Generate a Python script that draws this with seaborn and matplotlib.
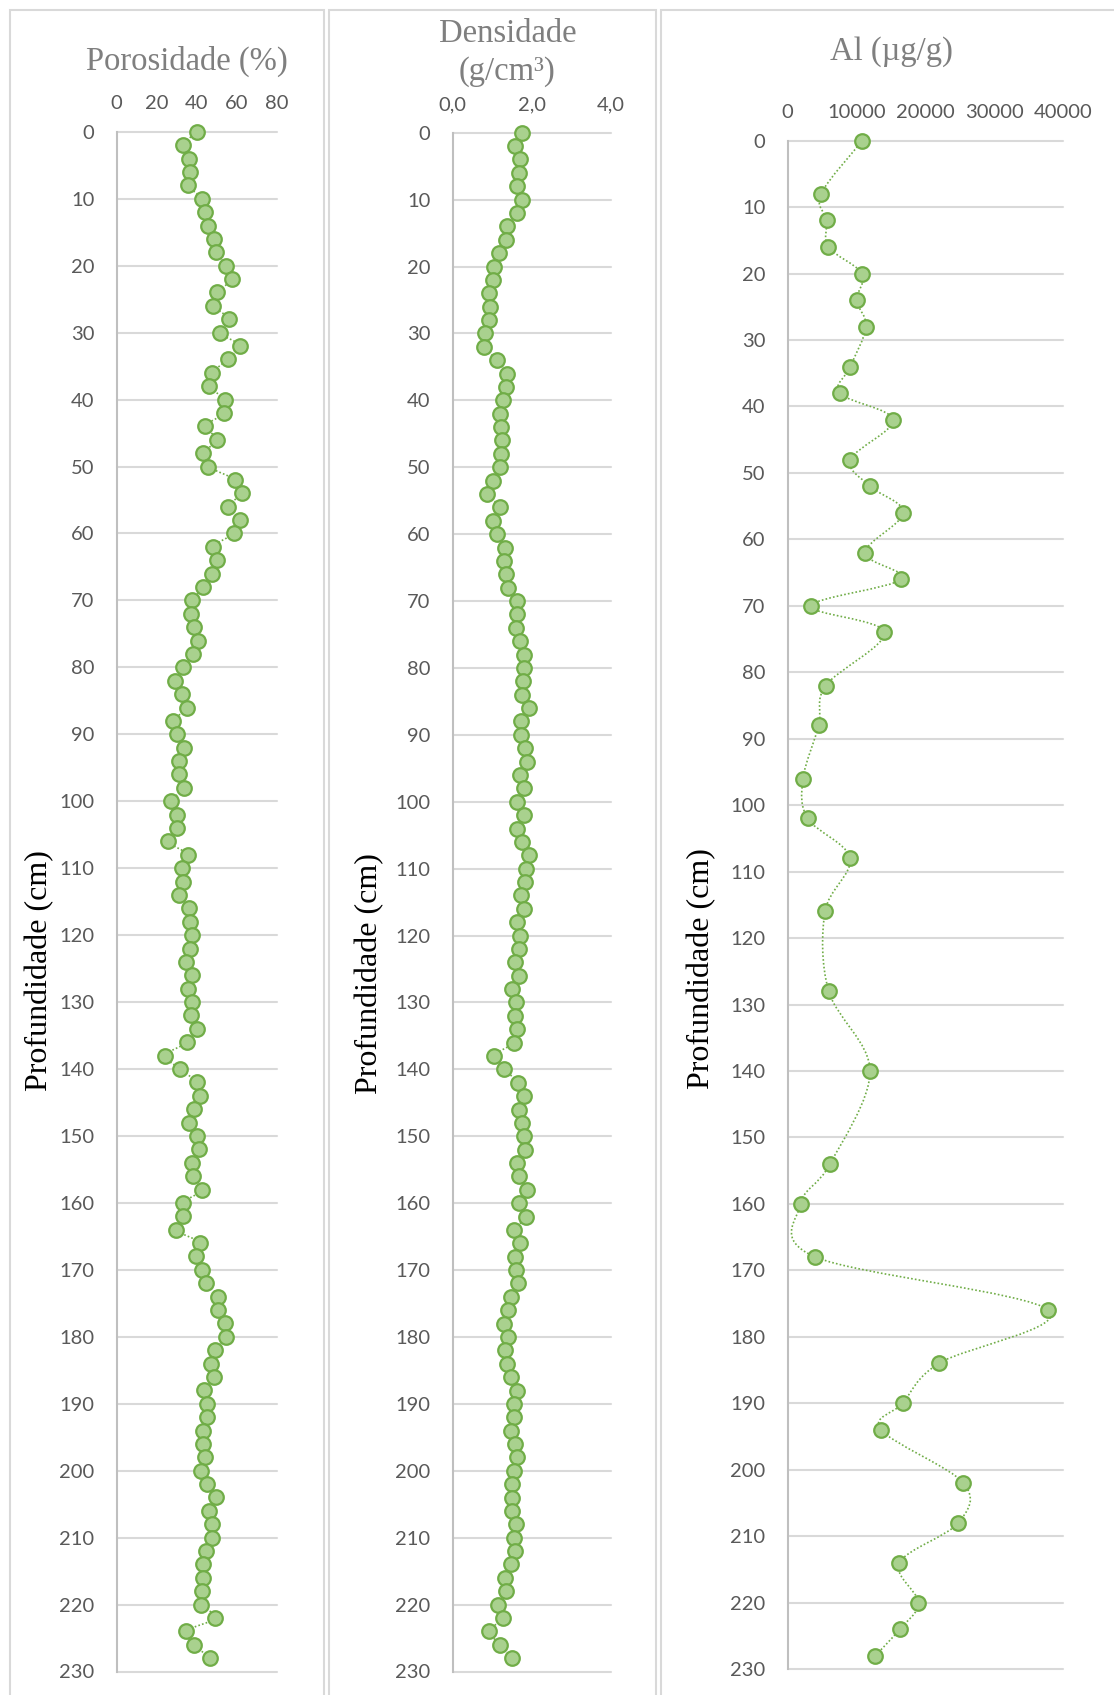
import numpy as np
import matplotlib
matplotlib.use("Agg")
import matplotlib.pyplot as plt
from matplotlib.path import Path
from matplotlib.patches import PathPatch, Rectangle
import seaborn as sns

# ---------------- data ----------------
depth = [0, 2, 4, 6, 8, 10, 12, 14, 16, 18, 20, 22, 24, 26, 28, 30, 32, 34, 36, 38,
         40, 42, 44, 46, 48, 50, 52, 54, 56, 58, 60, 62, 64, 66, 68, 70, 72, 74, 76, 78,
         80, 82, 84, 86, 88, 90, 92, 94, 96, 98, 100, 102, 104, 106, 108, 110, 112, 114, 116, 118,
         120, 122, 124, 126, 128, 130, 132, 134, 136, 138, 140, 142, 144, 146, 148, 150, 152, 154, 156, 158,
         160, 162, 164, 166, 168, 170, 172, 174, 176, 178, 180, 182, 184, 186, 188, 190, 192, 194, 196, 198,
         200, 202, 204, 206, 208, 210, 212, 214, 216, 218, 220, 222, 224, 226, 228]

porosidade = [40.0, 33.3, 36.3, 36.7, 35.8, 42.5, 44.2, 45.5, 48.8, 49.7,
              54.5, 57.5, 50.0, 48.3, 56.2, 51.7, 61.7, 55.3, 47.8, 46.2,
              53.8, 53.7, 44.3, 50.3, 43.0, 45.8, 59.2, 62.5, 55.3, 61.3,
              58.3, 48.0, 50.0, 47.7, 43.3, 37.8, 37.0, 38.8, 40.8, 38.3,
              33.3, 29.2, 32.5, 35.0, 28.3, 30.0, 33.7, 31.3, 31.0, 33.7,
              27.2, 30.3, 30.0, 25.8, 35.5, 32.8, 33.0, 31.0, 36.0, 36.7,
              37.8, 36.7, 34.7, 37.5, 35.8, 37.7, 37.2, 40.0, 35.3, 24.3,
              31.7, 40.0, 41.7, 38.7, 36.3, 40.0, 41.2, 37.8, 38.3, 42.7,
              33.0, 33.0, 29.7, 41.7, 39.5, 42.5, 44.7, 50.8, 50.5, 54.2,
              54.7, 49.2, 47.0, 48.7, 43.7, 45.0, 45.0, 43.3, 43.3, 44.3,
              42.0, 45.3, 49.7, 46.0, 47.5, 47.5, 44.7, 43.3, 43.0, 42.7,
              42.2, 49.2, 34.7, 38.8, 46.7]

densidade = [1.76, 1.58, 1.70, 1.69, 1.64, 1.76, 1.64, 1.38, 1.35, 1.18,
             1.05, 1.01, 0.93, 0.95, 0.93, 0.81, 0.80, 1.12, 1.38, 1.35,
             1.28, 1.20, 1.23, 1.25, 1.22, 1.20, 1.01, 0.86, 1.21, 1.03,
             1.13, 1.32, 1.31, 1.35, 1.41, 1.62, 1.64, 1.59, 1.70, 1.80,
             1.80, 1.77, 1.75, 1.92, 1.72, 1.73, 1.83, 1.87, 1.70, 1.80,
             1.63, 1.81, 1.64, 1.75, 1.92, 1.86, 1.83, 1.72, 1.80, 1.62,
             1.70, 1.67, 1.58, 1.68, 1.50, 1.61, 1.58, 1.64, 1.55, 1.05,
             1.31, 1.66, 1.80, 1.69, 1.75, 1.80, 1.84, 1.62, 1.68, 1.87,
             1.69, 1.86, 1.56, 1.70, 1.58, 1.60, 1.66, 1.48, 1.39, 1.31,
             1.39, 1.33, 1.38, 1.48, 1.64, 1.54, 1.56, 1.48, 1.58, 1.64,
             1.54, 1.50, 1.49, 1.50, 1.59, 1.56, 1.58, 1.47, 1.33, 1.35,
             1.14, 1.27, 0.92, 1.21, 1.49]

al_depth = [0, 8, 12, 16, 20, 24, 28, 34, 38, 42, 48, 52, 56, 62, 66, 70, 74, 82, 88,
            96, 102, 108, 116, 128, 140, 154, 160, 168, 176, 184, 190, 194, 202, 208,
            214, 220, 224, 228]
al = [10860, 4860, 5680, 5930, 10810, 10040, 11390, 9120, 7570, 15310, 9120, 11970,
      16810, 11250, 16470, 3460, 14050, 5540, 4520, 2250, 2930, 9070, 5440, 5970,
      11970, 6170, 1910, 4040, 37850, 21940, 16710, 13570, 25520, 24790, 16230,
      18990, 16280, 12750]

y_ticks = [0, 10, 20, 30, 40, 50, 60, 70, 80, 90, 100, 110, 120, 130, 140, 150,
           160, 170, 180, 190, 200, 210, 220, 230]
por_ticks = [0, 20, 40, 60, 80]
den_ticks = [0.0, 2.0, 4.0]
den_tick_labels = ["0,0", "2,0", "4,0"]
al_ticks = [0, 10000, 20000, 30000, 40000]

titles = ["Porosidade (%)", "Densidade\n(g/cm³)", "Al (µg/g)"]
ylabel = "Profundidade (cm)"

# ---------------- style ----------------
sns.set_style("white")
plt.rcParams["font.family"] = ["Lato", "DejaVu Sans"]

W, H = 1114, 1695
fig = plt.figure(figsize=(W / 100, H / 100), dpi=100)


def fx(x):
    return x / W


def fy(y):
    return 1 - y / H


def add_axes(left, right, top, bottom):
    return fig.add_axes([fx(left), fy(bottom), (right - left) / W, (bottom - top) / H])


MFACE = "#a9d18e"
MEDGE = "#70ad47"
GRID = "#d9d9d9"
TICKC = "#595959"
TITLEC = "#7f7f7f"
SERIF = ["Liberation Serif", "DejaVu Serif"]

# chart-area borders
for (l, r) in [(9.5, 324.0), (329.0, 656.0), (661.0, 1125.0)]:
    fig.add_artist(Rectangle((fx(l), fy(1720)), (r - l) / W, (1720 - 9.5) / H,
                             transform=fig.transFigure, fill=False,
                             edgecolor=GRID, lw=1.5, zorder=0))


def smooth_line(ax, xs, ys):
    P = np.column_stack([xs, ys]).astype(float)
    n = len(P)
    verts = [P[0]]
    codes = [Path.MOVETO]
    for i in range(n - 1):
        p0 = P[i - 1] if i > 0 else P[i]
        p3 = P[i + 2] if i + 2 < n else P[i + 1]
        c1 = P[i] + (P[i + 1] - p0) / 6.0
        c2 = P[i + 1] - (p3 - P[i]) / 6.0
        verts += [c1, c2, P[i + 1]]
        codes += [Path.CURVE4] * 3
    patch = PathPatch(Path(verts, codes), facecolor="none", edgecolor=MEDGE,
                      lw=1.2, linestyle=(0, (1, 1.3)), zorder=2, clip_on=False)
    ax.add_patch(patch)


def style_axis(ax, xlim, xticks, xticklabels):
    ax.set_xlim(*xlim)
    ax.set_ylim(230, 0)
    ax.set_yticks(y_ticks)
    ax.set_yticklabels([str(t) for t in y_ticks])
    ax.set_xticks(xticks)
    ax.set_xticklabels(xticklabels)
    ax.xaxis.tick_top()
    ax.tick_params(axis="both", length=0, labelsize=14.5, labelcolor=TICKC)
    ax.tick_params(axis="x", pad=14)
    ax.tick_params(axis="y", pad=16)
    for s in ["top", "right", "bottom"]:
        ax.spines[s].set_visible(False)
    ax.spines["left"].set_color("#bfbfbf")
    ax.spines["left"].set_linewidth(1.5)
    ax.grid(axis="y", color=GRID, lw=1.5)
    ax.grid(axis="x", visible=False)
    for gl in ax.get_ygridlines():
        gl.set_clip_on(False)
    ax.set_axisbelow(True)
    ax.set_xlabel("")
    ax.set_ylabel("")
    ax.patch.set_alpha(0)


panels = [
    (116.7, 277.0, 131.8, 1671.5, porosidade, depth, (0, 80), por_ticks, [str(t) for t in por_ticks]),
    (452.7, 610.7, 132.7, 1671.5, densidade, depth, (0, 4), den_ticks, den_tick_labels),
    (787.5, 1063.3, 140.7, 1669.0, al, al_depth, (0, 40000), al_ticks, [str(t) for t in al_ticks]),
]

for (l, r, t, b, xs, ys, xlim, xt, xtl) in panels:
    ax = add_axes(l, r, t, b)
    smooth_line(ax, xs, ys)
    sns.scatterplot(x=xs, y=ys, ax=ax, s=110, color=MFACE, edgecolor=MEDGE,
                    linewidth=1.6, zorder=3, clip_on=False, legend=False)
    style_axis(ax, xlim, xt, xtl)

# titles
fig.text(fx(187.3), fy(61.7), titles[0], ha="center", va="center",
         family=SERIF, fontsize=23.5, color=TITLEC)
fig.text(fx(507.5), fy(53.0), titles[1], ha="center", va="center",
         family=SERIF, fontsize=23.5, color=TITLEC, linespacing=1.3)
fig.text(fx(891.0), fy(51.7), titles[2], ha="center", va="center",
         family=SERIF, fontsize=23.5, color=TITLEC)

# y labels
for (xc, yc) in [(40.0, 971.0), (369.5, 973.5), (702.0, 968.6)]:
    fig.text(fx(xc), fy(yc), ylabel, rotation=90, ha="center", va="center",
             family=SERIF, fontsize=23, color="black")

fig.savefig("out.png", dpi=100, facecolor="white")
